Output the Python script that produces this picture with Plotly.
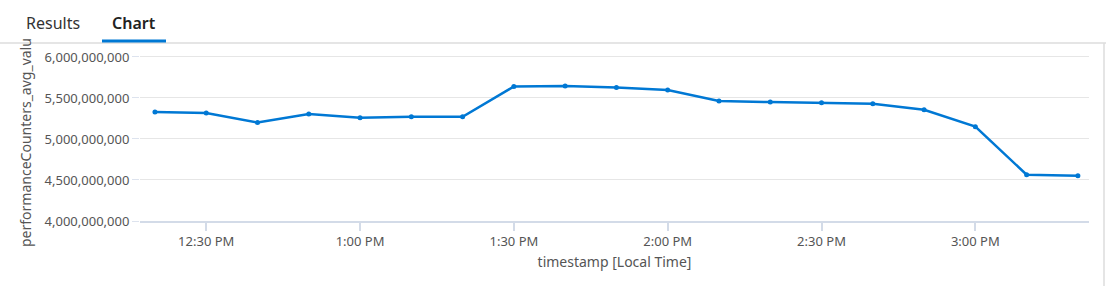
import plotly.graph_objects as go

timestamps = ["2023-01-01 12:20", "2023-01-01 12:30", "2023-01-01 12:40", "2023-01-01 12:50",
              "2023-01-01 13:00", "2023-01-01 13:10", "2023-01-01 13:20", "2023-01-01 13:30",
              "2023-01-01 13:40", "2023-01-01 13:50", "2023-01-01 14:00", "2023-01-01 14:10",
              "2023-01-01 14:20", "2023-01-01 14:30", "2023-01-01 14:40", "2023-01-01 14:50",
              "2023-01-01 15:00", "2023-01-01 15:10", "2023-01-01 15:20"]
values = [5.330e9, 5.317e9, 5.200e9, 5.305e9, 5.260e9, 5.270e9, 5.270e9, 5.640e9,
          5.645e9, 5.628e9, 5.598e9, 5.463e9, 5.450e9, 5.443e9, 5.430e9, 5.357e9,
          5.150e9, 4.565e9, 4.552e9]
y_title = "performanceCounters_avg_valu"
x_title = "timestamp [Local Time]"
tabs = ["Results", "Chart"]

W, H = 1106, 286
L, R, T, B = 140, 17, 50, 65
PW, PH = W - L - R, H - T - B

def fx(px):
    return (px - L) / PW

def fy(py):
    return (H - B - py) / PH

BLUE = "#0078d4"
FONT = "Noto Sans, Open Sans, sans-serif"

fig = go.Figure()
fig.add_trace(go.Scatter(
    x=timestamps, y=values, mode="lines+markers",
    line=dict(color=BLUE, width=2.5),
    marker=dict(color=BLUE, size=5),
    hoverinfo="x+y", showlegend=False,
))

fig.update_layout(
    width=W, height=H,
    margin=dict(l=L, r=R, t=T, b=B, pad=0),
    paper_bgcolor="white", plot_bgcolor="white",
    font=dict(family=FONT, size=13, color="#555555"),
    xaxis=dict(
        type="date",
        range=["2023-01-01 12:17:05", "2023-01-01 15:22:10"],
        tick0="2023-01-01 12:30", dtick=1800000,
        tickformat="%-I:%M %p",
        showgrid=False,
        showline=True, linecolor="#d3dbe8", linewidth=1.5,
        ticks="outside", ticklen=8, tickcolor="#d3dbe8", tickwidth=1.5,
        tickfont=dict(size=13, color="#555555"),
        title=dict(text=x_title, font=dict(size=14, color="#555555"), standoff=8),
        zeroline=False,
    ),
    yaxis=dict(
        range=[4.0e9, 6.085e9],
        tickvals=[4.0e9, 4.5e9, 5.0e9, 5.5e9, 6.0e9],
        tickformat=",",
        showgrid=True, gridcolor="#e6e6e6", gridwidth=1,
        ticks="outside", ticklen=7, tickcolor="#dde3ee",
        showline=False, zeroline=False,
        tickfont=dict(size=13, color="#555555"),
    ),
    annotations=[
        dict(text=y_title, textangle=-90, xref="paper", yref="paper",
             x=fx(25), y=fy(143), xanchor="center", yanchor="middle",
             showarrow=False, font=dict(size=14, color="#555555")),
        dict(text=tabs[0], xref="paper", yref="paper", x=fx(53), y=fy(23),
             xanchor="center", yanchor="middle", showarrow=False,
             font=dict(size=16, color="#333333")),
        dict(text=tabs[1], xref="paper", yref="paper", x=fx(134), y=fy(23),
             xanchor="center", yanchor="middle", showarrow=False,
             font=dict(size=16, color="#222222", weight=600)),
    ],
    shapes=[
        dict(type="line", xref="paper", yref="paper", x0=fx(0), x1=fx(W), y0=fy(43), y1=fy(43),
             line=dict(color="#dcdcdc", width=1.5)),
        dict(type="line", xref="paper", yref="paper", x0=fx(102), x1=fx(166), y0=fy(41), y1=fy(41),
             line=dict(color=BLUE, width=3)),
        dict(type="line", xref="paper", yref="paper", x0=fx(1104), x1=fx(1104), y0=fy(43), y1=fy(H),
             line=dict(color="#dcdcdc", width=1.5)),
    ],
)

fig.write_html("out.html")
